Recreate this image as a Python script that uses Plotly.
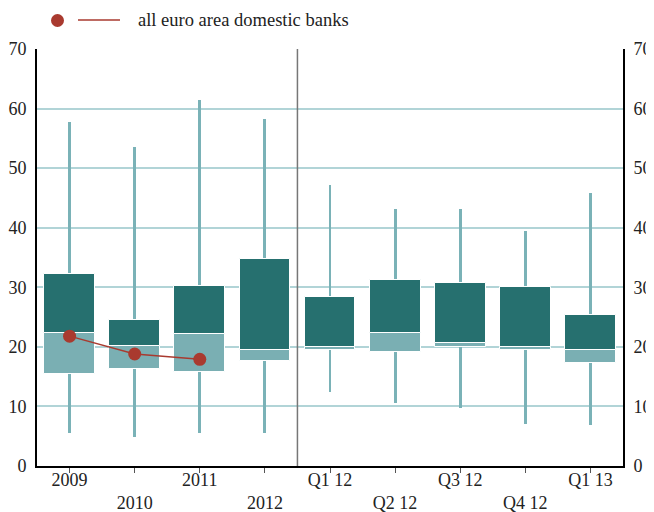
import plotly.graph_objects as go

periods = ["2009", "2010", "2011", "2012", "Q1 12", "Q2 12", "Q3 12", "Q4 12", "Q1 13"]
tick_labels = ["2009", "<br>2010", "2011", "<br>2012", "Q1 12", "<br>Q2 12", "Q3 12", "<br>Q4 12", "Q1 13"]

lows = [5.6, 4.9, 5.6, 5.5, 12.5, 10.5, 9.7, 7.0, 6.8]
q1 = [15.5, 16.3, 15.8, 17.7, 19.5, 19.2, 19.9, 19.4, 17.3]
medians = [22.3, 20.1, 22.2, 19.4, 20.0, 22.3, 20.7, 19.9, 19.5]
q3 = [32.3, 24.5, 30.2, 34.7, 28.3, 31.3, 30.8, 30.1, 25.3]
highs = [57.7, 53.5, 61.4, 58.3, 47.1, 43.2, 43.2, 39.5, 45.9]

euro_periods = ["2009", "2010", "2011"]
euro_values = [21.8, 18.8, 17.9]

dark_teal = "#26706f"
light_teal = "#7aafb3"
whisker_col = "#7ab2b7"
grid_col = "#b1d4d7"
red = "#a93a2f"
font = "Times New Roman, Liberation Serif, DejaVu Serif, serif"

fig = go.Figure()

# whiskers, min to max
fig.add_trace(go.Bar(
    x=periods, y=[h - l for h, l in zip(highs, lows)], base=lows,
    width=0.045, marker=dict(color=whisker_col, line=dict(width=0)),
    showlegend=False, hoverinfo="skip",
))
# lower part of box
fig.add_trace(go.Bar(
    x=periods, y=[m - a for m, a in zip(medians, q1)], base=q1,
    width=0.78, marker=dict(color=light_teal, line=dict(color="white", width=1)),
    showlegend=False,
))
# upper part of box
fig.add_trace(go.Bar(
    x=periods, y=[b - m for b, m in zip(q3, medians)], base=medians,
    width=0.78, marker=dict(color=dark_teal, line=dict(color="white", width=1)),
    showlegend=False,
))
# euro area line, on the right-hand axis so both sides are labelled
fig.add_trace(go.Scatter(
    x=euro_periods, y=euro_values, mode="lines+markers", yaxis="y2",
    line=dict(color=red, width=1.5), marker=dict(color=red, size=13),
    name="all euro area domestic banks", showlegend=False,
))

yaxis_common = dict(
    range=[0, 70], dtick=10, showgrid=True, gridcolor=grid_col, gridwidth=1.5,
    zeroline=False, showline=True, linecolor="black", linewidth=2,
    ticks="outside", ticklen=5, tickcolor="rgba(0,0,0,0)", automargin=False,
    tickfont=dict(family=font, size=18, color="#222"),
)

# the page adds an 8px body margin, so the figure is 8px smaller than the window
fig.update_layout(
    width=646, height=504,
    margin=dict(l=29, r=31, t=41, b=46),
    paper_bgcolor="white", plot_bgcolor="white",
    barmode="overlay", bargap=0,
    font=dict(family=font, size=18, color="#222"),
    xaxis=dict(
        type="category", categoryorder="array", categoryarray=periods,
        tickvals=periods, ticktext=tick_labels, range=[-0.5, 8.5],
        showline=True, linecolor="black", linewidth=2, showgrid=False,
        ticks="outside", ticklen=5, tickcolor="#555", tickwidth=1, automargin=False,
        ticklabelstandoff=-9,
        tickfont=dict(family=font, size=18, color="#222"),
    ),
    yaxis=dict(side="left", **yaxis_common),
    yaxis2=dict(side="right", overlaying="y", matches="y", **yaxis_common),
    shapes=[
        dict(type="line", xref="x", yref="y", x0=3.5, x1=3.5, y0=0, y1=70,
             line=dict(color="#777", width=1.5)),
        # legend
        dict(type="circle", xref="paper", yref="paper",
             x0=(51 - 37) / 586, x1=(64 - 37) / 586,
             y0=1 + (49 - 27) / 417, y1=1 + (49 - 14) / 417,
             fillcolor=red, line=dict(width=0)),
        dict(type="line", xref="paper", yref="paper",
             x0=(78 - 37) / 586, x1=(120 - 37) / 586,
             y0=1 + (49 - 20) / 417, y1=1 + (49 - 20) / 417,
             line=dict(color=red, width=1.5)),
    ],
    annotations=[
        dict(text="all euro area domestic banks", xref="paper", yref="paper",
             x=(136 - 37) / 586, y=1 + (49 - 20) / 417, xanchor="left", yanchor="middle",
             showarrow=False, font=dict(family=font, size=18.5, color="#222")),
    ],
)

fig.write_html("out.html")
